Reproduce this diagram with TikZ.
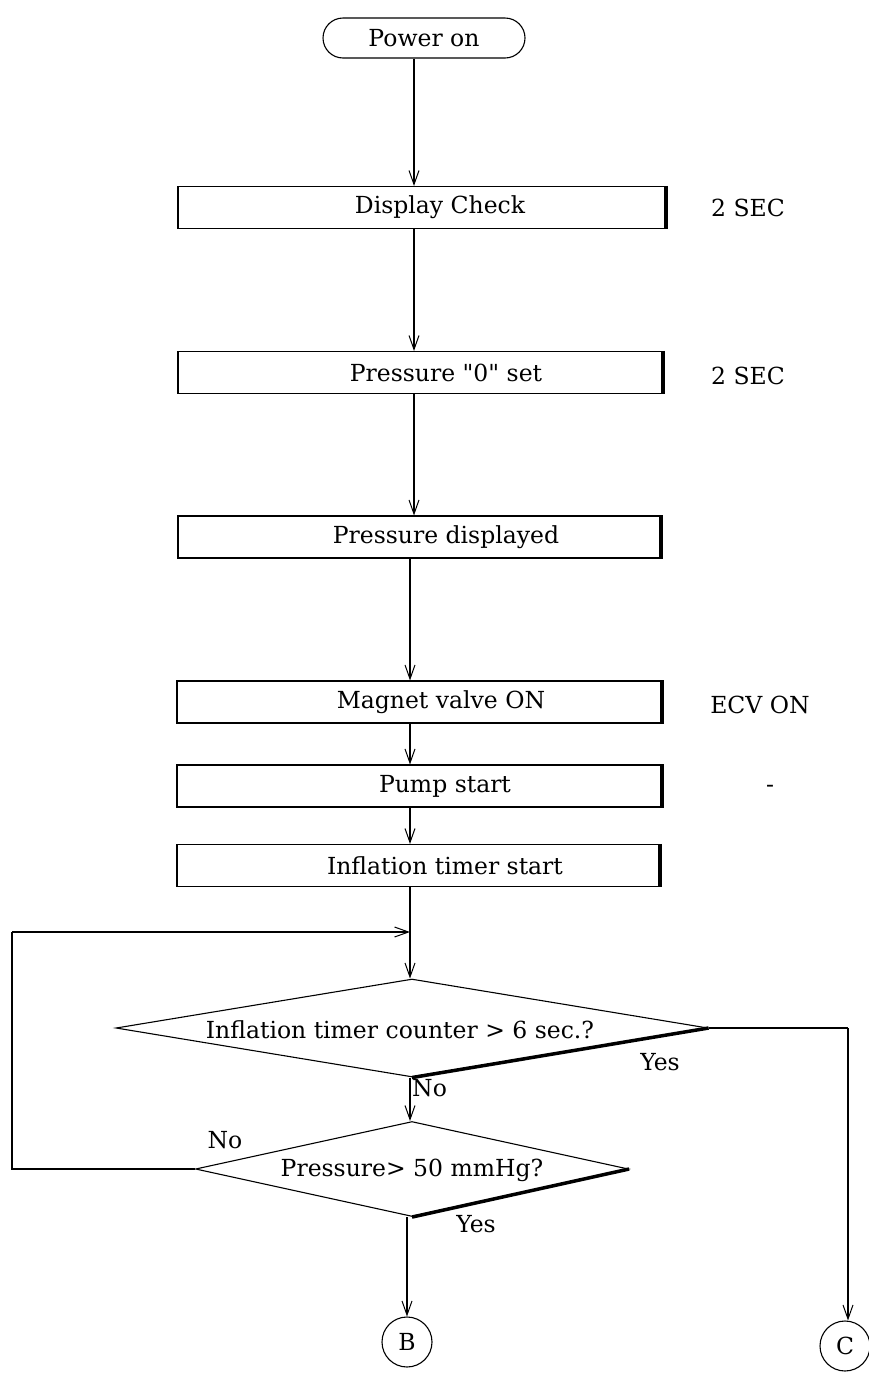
\documentclass[tikz,border=0pt]{standalone}
\usepackage{fontspec}
\setmainfont{DejaVu Serif}[Ligatures=TeXOff]
\usetikzlibrary{shapes.geometric,shapes.misc,arrows.meta}
\begin{document}
\begin{tikzpicture}[x=1pt,y=-1pt,
  every node/.style={font=\fontsize{23.5}{28}\selectfont},
  line/.style={line width=1.1pt},
  arr/.style={line width=1.1pt,-{Straight Barb[length=14pt,width=10pt,line width=1pt]}},
  procbox/.style={draw,line width=1.1pt,rectangle,minimum height=42pt,inner sep=0pt},
  shade/.style={line width=4pt},
  thickedge/.style={line width=3.5pt},
  decision/.style={draw,line width=1.1pt,diamond,inner sep=0pt},
  conn/.style={draw,line width=1.1pt,circle,minimum size=50pt,inner sep=0pt},
  side/.style={anchor=center}
]
\useasboundingbox (0,0) rectangle (869,1377);

% start
\node[draw,line width=1.1pt,rounded rectangle,minimum width=202pt,minimum height=40pt,inner sep=0pt] (po) at (424,38) {Power on};

% process boxes
\node[procbox,minimum width=489pt] (dc) at (422.5,207.5) {\hspace*{35pt}Display Check};
\node[procbox,minimum width=486pt] (pz) at (421,372.5) {\hspace*{50pt}Pressure "0" set};
\node[procbox,minimum width=484pt] (pd) at (420,537) {\hspace*{52pt}Pressure displayed};
\node[procbox,minimum width=486pt] (mv) at (420,702) {\hspace*{42pt}Magnet valve ON};
\node[procbox,minimum width=486pt] (ps) at (420,786) {\hspace*{50pt}Pump start};
\node[procbox,minimum width=484pt] (it) at (419,865.5) {\hspace*{52pt}Inflation timer start};

\foreach \n in {dc,pz,pd,mv,ps,it}
  \draw[shade] ([xshift=-2pt]\n.north east) -- ([xshift=-2pt]\n.south east);

% side notes
\node[side] (n1) at (748,208) {2 SEC};
\node[side] (n2) at (748,376) {2 SEC};
\node[side] (n3) at (760,705) {ECV ON};
\node[side] (n4) at (770,789) {-};

% decisions
\node[decision,minimum width=592pt,minimum height=98pt] (d1) at (412,1028) {};
\node (t1) at (400,1030) {Inflation timer counter > 6 sec.?};
\draw[thickedge] (d1.south) -- (d1.east);
\node[decision,minimum width=433pt,minimum height=95pt] (d2) at (412,1169) {};
\node (t2) at (412,1170) {Pressure> 50 mmHg?};
\draw[thickedge] (d2.south) -- (d2.east);

% connectors
\node[conn] (B) at (407,1342) {B};
\node[conn] (C) at (845,1346) {C};

% main line x
\coordinate (mx) at (414,0);
\coordinate (lx) at (410,0);

\draw[arr] (po.south -| mx) -- (dc.north -| mx);
\draw[arr] (dc.south -| mx) -- (pz.north -| mx);
\draw[arr] (pz.south -| mx) -- (pd.north -| mx);
\draw[arr] (pd.south -| lx) -- (mv.north -| lx);
\draw[arr] (mv.south -| lx) -- (ps.north -| lx);
\draw[arr] (ps.south -| lx) -- (it.north -| lx);
\draw[arr] (it.south -| lx) -- (d1.north -| lx);
\draw[arr] (d1.south -| lx) -- (d2.north -| lx);
\node[anchor=west,inner sep=0pt] (no1) at (412,1088) {No};

% loop back
\coordinate (lc1) at (12,1164);
\coordinate (lc2) at (12,932);
\coordinate (lc3) at (410,932);
\draw[line] (d2.west) -- (lc1 |- d2.west) -- (lc2);
\draw[arr] (lc2) -- (lc3);
\node (no2) at (225,1140) {No};

% yes branches
\coordinate (rc) at (848,0);
\draw[line] (d1.east) -- (d1.east -| rc);
\draw[arr] (d1.east -| rc) -- (C.north -| rc);
\node (y1) at (660,1062) {Yes};
\draw[arr] (d2.south -| B) -- (B.north);
\node (y2) at (476,1224) {Yes};
\end{tikzpicture}
\end{document}
